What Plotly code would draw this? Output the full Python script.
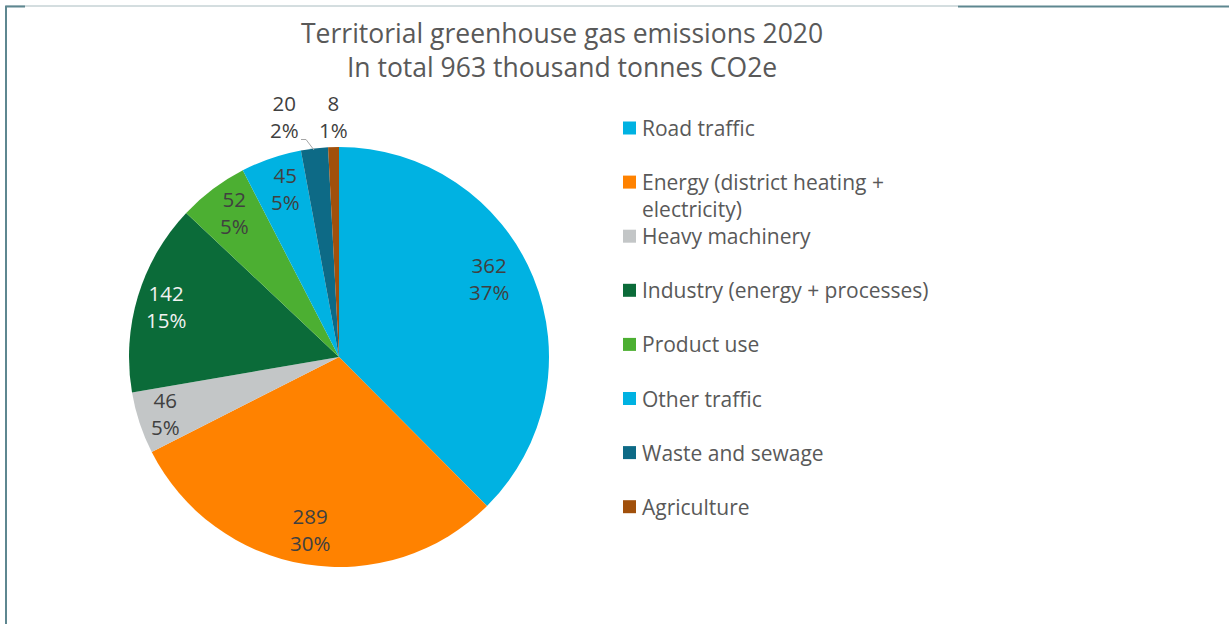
import math
import plotly.graph_objects as go

# Territorial greenhouse gas emissions 2020 (thousand tonnes CO2e)
categories = [
    "Road traffic",
    "Energy (district heating + electricity)",
    "Heavy machinery",
    "Industry (energy + processes)",
    "Product use",
    "Other traffic",
    "Waste and sewage",
    "Agriculture",
]
emissions = [362, 289, 46, 142, 52, 45, 20, 8]
shares = ["37%", "30%", "5%", "15%", "5%", "5%", "2%", "1%"]

colors = ["#00B2E2", "#FF8200", "#C3C6C7", "#0B6B39", "#4CAF32",
          "#00B2E2", "#0D6A86", "#A1500B"]
label_colors = ["#404040", "#404040", "#404040", "#F2F2F2", "#404040",
                "#404040", "#404040", "#404040"]
legend_text = [
    "Road traffic",
    "Energy (district heating +<br>electricity)",
    "Heavy machinery",
    "Industry (energy + processes)",
    "Product use",
    "Other traffic",
    "Waste and sewage",
    "Agriculture",
]

W, H = 1229, 624
FONT = "Open Sans"

# pie placement in pixels
cx, cy, R = 339, 357, 210
dom_x = [(cx - R) / W, (cx + R) / W]
dom_y = [1 - (cy + R) / H, 1 - (cy - R) / H]

fig = go.Figure(go.Pie(
    labels=categories,
    values=emissions,
    sort=False,
    direction="clockwise",
    rotation=0,
    marker=dict(colors=colors, line=dict(width=0)),
    textinfo="none",
    hoverinfo="label+value+percent",
    domain=dict(x=dom_x, y=dom_y),
    showlegend=False,
))

def px_to_paper(x, y):
    return x / W, 1 - y / H

# data labels at the middle angle of each slice, with small nudges
radial = [0.81, 0.835, 0.87, 0.85, 0.85, 0.84, 1.15, 1.14]
nudge = [(-7, -14), (-1, -1), (0, -1), (-2, 1), (3, -2), (4, -2), (0, -1), (1, -1)]
total = sum(emissions)
cum = 0
annotations = []
for i, v in enumerate(emissions):
    mid = (cum + v / 2) / total * 2 * math.pi
    cum += v
    r = R * radial[i]
    lx = cx + r * math.sin(mid) + nudge[i][0]
    ly = cy - r * math.cos(mid) + nudge[i][1]
    if i == 6:
        lx -= 26
    px, py = px_to_paper(lx, ly)
    annotations.append(dict(
        x=px, y=py, xref="paper", yref="paper",
        text=f"{v}<br>{shares[i]}", showarrow=False,
        xanchor="center", yanchor="middle", align="center",
        font=dict(family=FONT, size=20.5, color=label_colors[i]),
    ))

# title
tx, ty = px_to_paper(562, 50)
annotations.append(dict(
    x=tx, y=ty, xref="paper", yref="paper", showarrow=False,
    text="Territorial greenhouse gas emissions 2020<br>In total 963 thousand tonnes CO2e",
    xanchor="center", yanchor="middle", align="center",
    font=dict(family=FONT, size=26.5, color="#595959"),
))

# legend drawn as squares plus text rows
shapes = []
row0, row_gap = 128, 54.1
for i, name in enumerate(legend_text):
    yc = row0 + i * row_gap
    x0, y0 = px_to_paper(623, yc - 6.5)
    x1, y1 = px_to_paper(636, yc + 6.5)
    shapes.append(dict(type="rect", xref="paper", yref="paper",
                       x0=x0, x1=x1, y0=y1, y1=y0,
                       fillcolor=colors[i], line=dict(width=0)))
    ax, ay = px_to_paper(640, yc - 16)
    annotations.append(dict(
        x=ax, y=ay, xref="paper", yref="paper", showarrow=False,
        text=name, xanchor="left", yanchor="top", align="left",
        font=dict(family=FONT, size=21, color="#595959"),
    ))

# leader line for the small waste slice
lp = [px_to_paper(301, 139.5), px_to_paper(306, 139.5), px_to_paper(314, 150)]
path = "M {} {} L {} {} L {} {}".format(lp[0][0], lp[0][1], lp[1][0], lp[1][1],
                                         lp[2][0], lp[2][1])
shapes.append(dict(type="path", xref="paper", yref="paper", path=path,
                   line=dict(color="#A6A6A6", width=1)))

# frame lines
def hline(x0, x1, y, color, width):
    a = px_to_paper(x0, y)
    b = px_to_paper(x1, y)
    return dict(type="line", xref="paper", yref="paper",
                x0=a[0], y0=a[1], x1=b[0], y1=b[1],
                line=dict(color=color, width=width))

shapes.append(hline(6, 958, 6, "#A9BCC0", 1))
shapes.append(hline(958, W, 6.5, "#5E8790", 2))
shapes.append(hline(5, 25, 6.5, "#5E8790", 2))
a = px_to_paper(6, 6)
b = px_to_paper(6, H)
shapes.append(dict(type="line", xref="paper", yref="paper",
                   x0=a[0], y0=a[1], x1=b[0], y1=b[1],
                   line=dict(color="#5E8790", width=2)))

fig.update_layout(
    width=W, height=H,
    margin=dict(l=0, r=0, t=0, b=0),
    paper_bgcolor="white",
    plot_bgcolor="white",
    annotations=annotations,
    shapes=shapes,
    showlegend=False,
)

fig.write_html("out.html")
